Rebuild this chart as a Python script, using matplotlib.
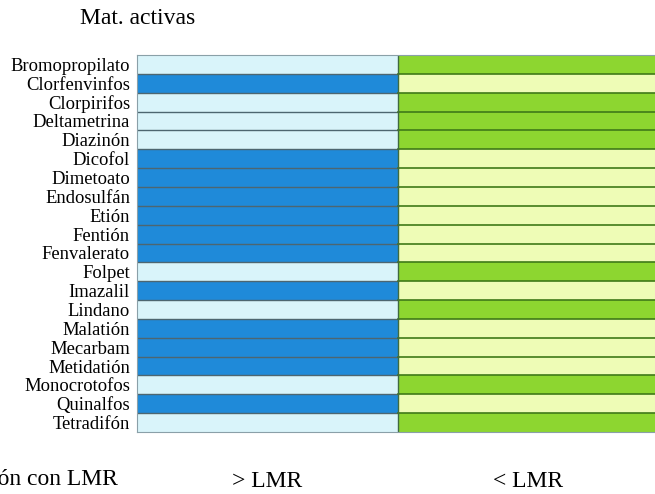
import matplotlib
matplotlib.use("Agg")
import matplotlib.pyplot as plt
import numpy as np
from matplotlib.colors import ListedColormap

substances = ["Bromopropilato", "Clorfenvinfos", "Clorpirifos", "Deltametrina",
              "Diazinón", "Dicofol", "Dimetoato", "Endosulfán", "Etión", "Fentión",
              "Fenvalerato", "Folpet", "Imazalil", "Lindano", "Malatión", "Mecarbam",
              "Metidatión", "Monocrotofos", "Quinalfos", "Tetradifón"]
above_lmr = [0, 1, 0, 0, 0, 1, 1, 1, 1, 1, 1, 0, 1, 0, 1, 1, 1, 0, 1, 0]
columns = ["> LMR", "< LMR"]
title = "Mat. activas"
left_caption = "Comparación con LMR"

plt.rcParams['font.family'] = ['Liberation Serif', 'DejaVu Serif']

fig = plt.figure(figsize=(6.55, 4.94), dpi=100)
W, H = 655, 494
x0, x1 = 137, 137 + 522
y_top, y_bot = 55, 432
ax = fig.add_axes([x0 / W, (H - y_bot) / H, (x1 - x0) / W, (y_bot - y_top) / H])

n = len(substances)
above = np.array(above_lmr)
# codes: 0 light cyan, 1 blue, 2 light green, 3 green
grid = np.zeros((n, 2))
grid[:, 0] = above
grid[:, 1] = np.where(above == 1, 2, 3)
cmap = ListedColormap(["#d9f4fa", "#1f8ad9", "#eefcb6", "#8dd630"])
ax.pcolormesh(np.arange(3), np.arange(n + 1), grid, cmap=cmap, vmin=-0.5, vmax=3.5)
ax.set_xlim(0, 2)
ax.set_ylim(n, 0)

for i in range(1, n):
    ax.plot([0, 1], [i, i], color="#4d6670", lw=1.0)
    ax.plot([1, 2], [i, i], color="#3f7a18", lw=1.2)
ax.axvline(1, color="#3f6a40", lw=1.0)

for s in ax.spines.values():
    s.set_color("#8aa0a8")
    s.set_linewidth(0.8)

ax.set_yticks(np.arange(n) + 0.5)
ax.set_yticklabels(substances, fontsize=13.4)
ax.set_xticks([0.5, 1.5])
ax.set_xticklabels(columns, fontsize=17)
ax.tick_params(length=0, pad=5)
ax.tick_params(axis='x', pad=28)

fig.text(138 / W, 1 - 18 / H, title, ha='center', va='center', fontsize=17)
fig.text(118 / W, 1 - 479 / H, left_caption, ha='right', va='center', fontsize=17)

fig.savefig("out.png", dpi=100)
